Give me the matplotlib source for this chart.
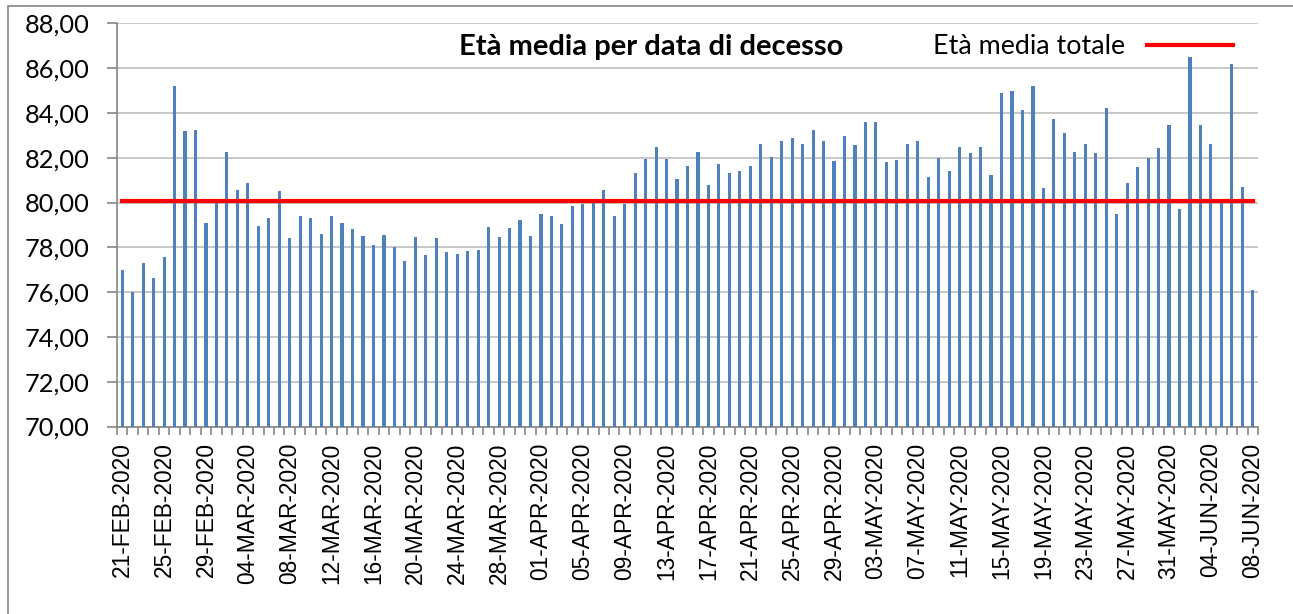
import matplotlib.pyplot as plt
import pandas as pd
from matplotlib import font_manager
from matplotlib.patches import Rectangle
from matplotlib.ticker import FuncFormatter

# days from 21-FEB-2020 to 08-JUN-2020
dates = pd.date_range('2020-02-21', '2020-06-08', freq='D')
date_labels = [d.strftime('%d-%b-%Y').upper() for d in dates]

eta_media = [
    77.0, 76.0, 77.3, 76.65, 77.55, 85.2, 83.2, 83.25, 79.1, 80.0,
    82.25, 80.55, 80.85, 78.95, 79.3, 80.5, 78.4, 79.4, 79.3, 78.6,
    79.4, 79.1, 78.8, 78.5, 78.1, 78.55, 78.0, 77.4, 78.45, 77.65,
    78.4, 77.8, 77.7, 77.85, 77.9, 78.9, 78.45, 78.85, 79.2, 78.5,
    79.5, 79.4, 79.05, 79.85, 79.95, 80.0, 80.55, 79.4, 79.95, 81.3,
    81.95, 82.5, 81.95, 81.05, 81.65, 82.25, 80.8, 81.7, 81.3, 81.4,
    81.65, 82.6, 82.05, 82.75, 82.9, 82.6, 83.25, 82.75, 81.85, 82.95,
    82.55, 83.6, 83.6, 81.8, 81.9, 82.6, 82.75, 81.15, 82.0, 81.4,
    82.5, 82.2, 82.5, 81.25, 84.9, 85.0, 84.15, 85.2, 80.65, 83.75,
    83.1, 82.25, 82.6, 82.2, 84.2, 79.5, 80.85, 81.6, 82.0, 82.45,
    83.45, 79.7, 86.5, 83.45, 82.6, 80.0, 86.2, 80.7, 76.1,
]
eta_media_totale = 80.05

# regular (not narrow) Liberation Sans for the date labels
date_font = font_manager.FontProperties(family='Liberation Sans', size=16.4)
for f in font_manager.findSystemFonts():
    if f.endswith('LiberationSans-Regular.ttf'):
        date_font = font_manager.FontProperties(fname=f, size=16.4)
        break

fig = plt.figure(figsize=(12.93, 6.14), dpi=100)
ax = fig.add_axes([117 / 1293, 1 - 426.5 / 614, (1258 - 117) / 1293, (426.5 - 23.3) / 614])

x = list(range(len(eta_media)))
ax.bar(x, eta_media, width=0.3, color='#4F81BD', zorder=3)
ax.plot([x[0], x[-1]], [eta_media_totale] * 2, color='#FF0000', lw=3, zorder=4,
        label='Età media totale')

ax.set_ylim(70, 88)
ax.set_xlim(-0.5, len(eta_media) - 0.5)
ax.set_yticks(range(70, 89, 2))
ax.yaxis.set_major_formatter(FuncFormatter(lambda v, p: f'{v:.2f}'.replace('.', ',')))
ax.grid(axis='y', color='#BFBFBF', lw=1.2, zorder=0)

ax.set_xticks(x[::4])
ax.set_xticklabels(date_labels[::4], rotation=90, fontproperties=date_font)
ax.set_xticks([i - 0.5 for i in range(len(eta_media) + 1)], minor=True)
ax.tick_params(axis='x', which='major', length=0, pad=11.5)
ax.tick_params(axis='x', which='minor', length=6, width=1.2, color='#868686')
ax.tick_params(axis='y', length=7, width=1.2, color='#868686', pad=13, labelsize=18.3)
for lab in ax.get_yticklabels():
    lab.set_family('Lato')

for s in ['top', 'right']:
    ax.spines[s].set_visible(False)
for s in ['left', 'bottom']:
    ax.spines[s].set_color('#868686')
    ax.spines[s].set_linewidth(1.2)

fig.text(651.5 / 1293, 1 - 47 / 614, 'Età media per data di decesso', ha='center', va='center',
         fontsize=21, fontweight='bold', family='Lato')
ax.legend(loc='center right', bbox_to_anchor=(1233 / 1293, 1 - 47 / 614),
          bbox_transform=fig.transFigure, frameon=False, markerfirst=False,
          borderpad=0, borderaxespad=0, handlelength=3.2, handletextpad=0.8,
          prop={'family': 'Lato', 'size': 19.4})

fig.patches.append(Rectangle((8 / 1293, -0.1), 1.1, 1.1 - 6 / 614,
                             transform=fig.transFigure, fill=False,
                             edgecolor='#868686', lw=1.2))

plt.savefig('out.png', dpi=100)
